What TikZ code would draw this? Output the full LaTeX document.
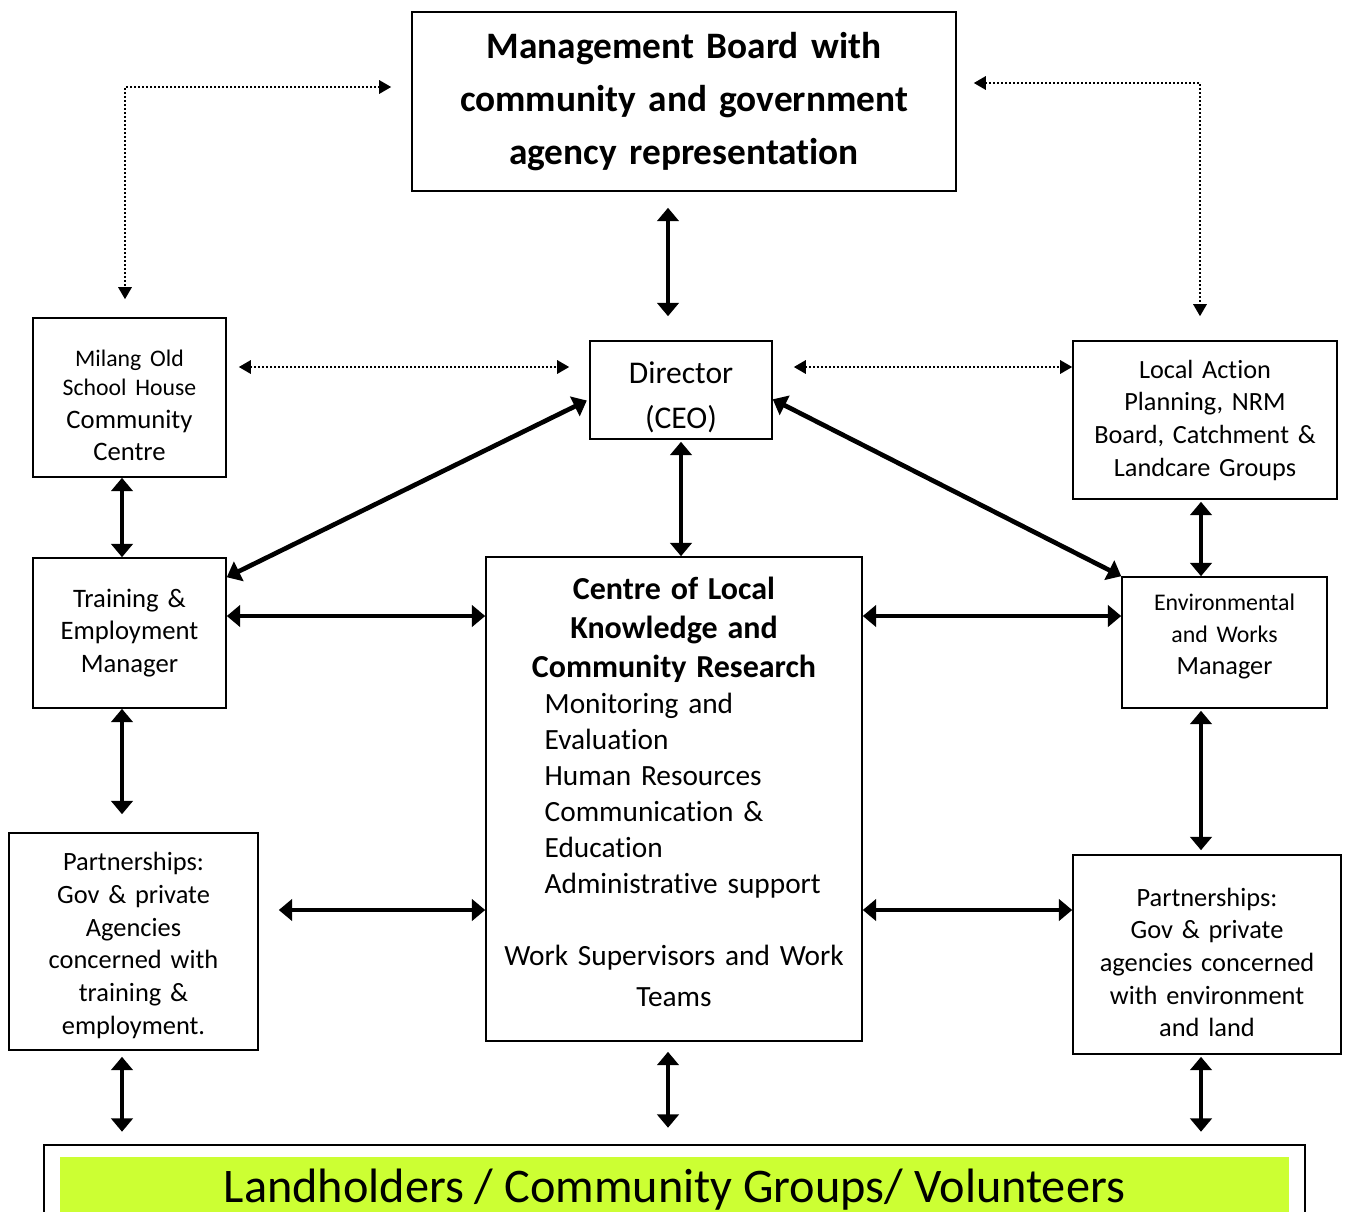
\documentclass[tikz,border=0pt]{standalone}
\usepackage{fontspec}
\setmainfont{Carlito}[Ligatures=NoCommon]
\usepackage{tikz}
\usetikzlibrary{arrows.meta}
\definecolor{landgreen}{RGB}{204,255,51}
\newcommand{\downby}[1]{\par\nointerlineskip\vspace*{#1}}
\newcommand{\upby}[1]{\par\nointerlineskip\vspace{#1}\null}

\begin{document}
\begin{tikzpicture}[x=0.75pt,y=-0.75pt,
    box/.style={draw, line width=1.2pt, align=center, inner sep=0pt},
    twoway/.style={{Triangle[width=16pt,length=10pt]}-{Triangle[width=16pt,length=10pt]}, line width=3.5pt},
    dotway/.style={{Triangle[width=10pt,length=9pt]}-{Triangle[width=10pt,length=9pt]}, line width=1.5pt, dash pattern=on 1.5pt off 1.5pt}]
  \useasboundingbox (0,0) rectangle (1346,1211);
  \clip (0,0) rectangle (1346,1211);

  % boxes
  \node[box, minimum width=408pt, minimum height=134.25pt, text width=400pt,
        font=\fontsize{28}{39.75}\selectfont\bfseries] (board) at (684,101.5)
        {Management Board with\\ community and government\\ agency representation};
  \node[box, minimum width=136.5pt, minimum height=73.5pt, text width=130pt,
        font=\fontsize{23.7}{34}\selectfont] (director) at (681,390) {\downby{10.5pt}Director\\ (CEO)};
  \node[box, minimum width=144.75pt, minimum height=119.25pt, text width=138pt,
        font=\fontsize{20}{24.5}\selectfont] (milang) at (129.5,397.5)
        {\downby{12pt}{\fontsize{17.8}{22}\selectfont Milang Old\\ School House\par}Community\\ Centre};
  \node[box, minimum width=198pt, minimum height=118.5pt, text width=190pt,
        font=\fontsize{19.7}{24.5}\selectfont] (local) at (1205,420)
        {Local Action\\ Planning, NRM\\ Board, Catchment \&\\ Landcare Groups};
  \node[box, minimum width=144.75pt, minimum height=112.5pt, text width=138pt,
        font=\fontsize{20}{24.4}\selectfont] (training) at (129.5,633)
        {Training \&\\ Employment\\ Manager};
  \node[box, minimum width=153.75pt, minimum height=98.25pt, text width=146pt,
        font=\fontsize{19.7}{24.5}\selectfont] (env) at (1224.5,642.5)
        {{\fontsize{17.9}{24}\selectfont Environmental\\ and Works\par}Manager\upby{9pt}};
  \node[box, minimum width=186.75pt, minimum height=162.75pt, text width=180pt,
        font=\fontsize{19.8}{24.5}\selectfont] (partL) at (133.5,941.5)
        {\downby{6pt}Partnerships:\\ Gov \& private\\ Agencies\\ concerned with\\ training \&\\ employment.};
  \node[box, minimum width=201pt, minimum height=149.25pt, text width=194pt,
        font=\fontsize{19.8}{24.5}\selectfont] (partR) at (1207,954.5)
        {\downby{12pt}Partnerships:\\ Gov \& private\\ agencies concerned\\ with environment\\ and land};
  \node[box, minimum width=282pt, minimum height=363pt, text width=270pt, align=left,
        font=\fontsize{22}{27}\selectfont] (centre) at (674,799)
        {{\centering\bfseries\fontsize{24}{29.25}\selectfont Centre of Local\\ Knowledge and\\ Community Research\par}
         {\leftskip=38pt Monitoring and\\ Evaluation\\ Human Resources\\ Communication \&\\ Education\\ Administrative support\par}
         \vspace{23pt}
         {\centering\fontsize{22}{30.75}\selectfont Work Supervisors and Work\\ Teams\par}
         \upby{11pt}};
  \node[fill=landgreen, minimum width=921.75pt, text height=33.75pt, text depth=20pt,
        inner ysep=0pt, anchor=base, font=\fontsize{36.2}{40}\selectfont] (land) at (674.5,1202)
        {Landholders / Community Groups/ Volunteers};
  \draw[line width=1.2pt] ([xshift=-12pt,yshift=9pt]land.north west) rectangle ([xshift=12pt,yshift=-9pt]land.south east);

  % dotted links
  \draw[dotway, shorten <=15pt, shorten >=13.5pt] (board.west |- 0,87) -| (milang.north -| 125,0);
  \draw[dotway, shorten <=12.75pt, shorten >=18pt] (board.east |- 0,83) -| (local.north -| 1200,0);
  \draw[dotway, shorten <=9pt, shorten >=15pt] (milang.east |- 0,367) -- (director.west |- 0,367);
  \draw[dotway, shorten <=15.75pt] (director.east |- 0,367) -- (local.west |- 0,367);

  % solid links
  \draw[twoway, shorten <=12pt, shorten >=18pt] (board.south -| 668,0) -- (director.north -| 668,0);
  \draw[twoway, shorten <=1.5pt] (director.south) -- (director.south |- centre.north);
  \draw[twoway, shorten <=2pt] ([yshift=-7pt]director.west) -- ([yshift=-15pt]training.north east);
  \draw[twoway] ([yshift=-7pt]director.east) -- (env.north west);
  \draw[twoway] (milang.south -| 122,0) -- (training.north -| 122,0);
  \draw[twoway, shorten <=1.5pt] (local.south -| 1201,0) -- (env.north -| 1201,0);
  \draw[twoway] (training.east |- 0,616) -- (centre.west |- 0,616);
  \draw[twoway] (centre.east |- 0,616) -- (env.west |- 0,616);
  \draw[twoway, shorten >=13.5pt] (training.south -| 122,0) -- (partL.north -| 122,0);
  \draw[twoway, shorten <=1.5pt, shorten >=3pt] (env.south -| 1201,0) -- (partR.north -| 1201,0);
  \draw[twoway, shorten <=15pt] (partL.east |- 0,910) -- (centre.west |- 0,910);
  \draw[twoway] (centre.east |- 0,910) -- (partR.west |- 0,910);
  \draw[twoway, shorten <=4.5pt, shorten >=18.75pt] (partL.south -| 122,0) -- (land.north -| 122,0);
  \draw[twoway, shorten <=7.5pt, shorten >=21.75pt] (centre.south -| 668,0) -- (land.north -| 668,0);
  \draw[twoway, shorten <=1.5pt, shorten >=18.75pt] (partR.south -| 1201,0) -- (land.north -| 1201,0);
\end{tikzpicture}
\end{document}
